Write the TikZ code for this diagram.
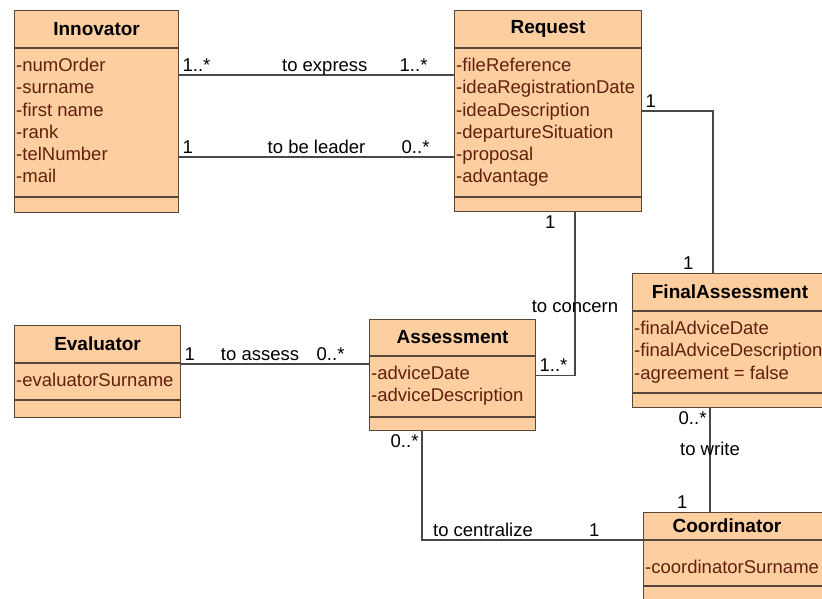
\documentclass[tikz,border=0pt]{standalone}
\usepackage{fontspec}
\setmainfont{Liberation Sans}
\usepackage{xcolor}
\usetikzlibrary{positioning}
\definecolor{umlfill}{RGB}{252,206,160}
\definecolor{umledge}{RGB}{88,70,56}
\definecolor{umltext}{RGB}{98,32,12}
\definecolor{umlwire}{RGB}{72,72,72}
\tikzset{
    umlbox/.style={draw=umledge, fill=umlfill, anchor=north west, inner sep=0pt, line width=1.1pt},
    umltitle/.style={font=\fontsize{19}{22}\selectfont\bfseries, text=black, inner sep=0pt},
    umlattr/.style={font=\fontsize{18.5}{22.2}\selectfont, text=umltext, align=left, anchor=north west, inner xsep=2pt, inner ysep=10pt},
    umlrule/.style={draw=umledge, line width=1.1pt},
    umlassoc/.style={draw=umlwire, line width=1.1pt},
    umllabel/.style={font=\fontsize{18.5}{22}\selectfont, text=black, text depth=0pt, inner sep=3pt}
}

\begin{document}
\begin{tikzpicture}[x=1pt, y=-1pt]
    \useasboundingbox[fill=white] (0,0) rectangle (822,598);
    \clip (0,0) rectangle (822,598);

    % classes
    \node[umlbox, minimum width=164pt, minimum height=202pt] (innov) at (14,10) {};
    \node[umltitle] (innovT) at ([yshift=-19pt]innov.north) {Innovator};
    \draw[umlrule] ([yshift=-38pt]innov.north west) -- ([yshift=-38pt]innov.north east);
    \node[umlattr] (innovA) at ([yshift=-38pt]innov.north west) {-numOrder\\-surname\\-first name\\-rank\\-telNumber\\-mail};
    \draw[umlrule] ([yshift=-187pt]innov.north west) -- ([yshift=-187pt]innov.north east);

    \node[umlbox, minimum width=187pt, minimum height=201pt] (req) at (454,10) {};
    \node[umltitle] (reqT) at ([yshift=-19pt]req.north) {Request};
    \draw[umlrule] ([yshift=-38pt]req.north west) -- ([yshift=-38pt]req.north east);
    \node[umlattr] (reqA) at ([yshift=-38pt]req.north west) {-fileReference\\-ideaRegistrationDate\\-ideaDescription\\-departureSituation\\-proposal\\-advantage};
    \draw[umlrule] ([yshift=-187pt]req.north west) -- ([yshift=-187pt]req.north east);

    \node[umlbox, minimum width=166pt, minimum height=92pt] (eval) at (14,325) {};
    \node[umltitle] (evalT) at ([yshift=-19pt]eval.north) {Evaluator};
    \draw[umlrule] ([yshift=-38pt]eval.north west) -- ([yshift=-38pt]eval.north east);
    \node[umlattr] (evalA) at ([yshift=-38pt]eval.north west) {-evaluatorSurname};
    \draw[umlrule] ([yshift=-75pt]eval.north west) -- ([yshift=-75pt]eval.north east);

    \node[umlbox, minimum width=166pt, minimum height=111pt] (assess) at (369,319) {};
    \node[umltitle] (assessT) at ([yshift=-18.5pt]assess.north) {Assessment};
    \draw[umlrule] ([yshift=-37pt]assess.north west) -- ([yshift=-37pt]assess.north east);
    \node[umlattr] (assessA) at ([yshift=-37pt]assess.north west) {-adviceDate\\-adviceDescription};
    \draw[umlrule] ([yshift=-98pt]assess.north west) -- ([yshift=-98pt]assess.north east);

    \node[umlbox, minimum width=210pt, minimum height=134pt] (fa) at (632,273) {};
    \node[umltitle] (faT) at ([yshift=-19pt]fa.north west) [anchor=center, xshift=98pt] {FinalAssessment};
    \draw[umlrule] ([yshift=-38pt]fa.north west) -- ([yshift=-38pt]fa.north east);
    \node[umlattr] (faA) at ([yshift=-38pt]fa.north west) {-finalAdviceDate\\-finalAdviceDescription\\-agreement = false};
    \draw[umlrule] ([yshift=-120pt]fa.north west) -- ([yshift=-120pt]fa.north east);

    \node[umlbox, minimum width=200pt, minimum height=100pt] (coord) at (643,512) {};
    \node[umltitle] (coordT) at ([yshift=-14pt, xshift=84pt]coord.north west) {Coordinator};
    \draw[umlrule] ([yshift=-28pt]coord.north west) -- ([yshift=-28pt]coord.north east);
    \node[umlattr, inner ysep=0pt] (coordA) at ([yshift=-48pt]coord.north west) {-coordinatorSurname};
    \draw[umlrule] ([yshift=-74pt]coord.north west) -- ([yshift=-74pt]coord.north east);

    % associations
    \draw[umlassoc] ([yshift=-65pt]innov.north east) -- ([yshift=-65pt]req.north west)
        node[umllabel, pos=0, above right] {1..*}
        node[umllabel, pos=0.53, above] {to express}
        node[umllabel, pos=1, above left, xshift=-23pt] {1..*};
    \draw[umlassoc] ([yshift=-147pt]innov.north east) -- ([yshift=-147pt]req.north west)
        node[umllabel, pos=0, above right] {1}
        node[umllabel, pos=0.5, above] {to be leader}
        node[umllabel, pos=1, above left, xshift=-21pt] {0..*};
    \draw[umlassoc] ([yshift=-101pt]req.north east) -| ([xshift=81pt]fa.north west)
        node[umllabel, pos=0, above right] {1}
        node[umllabel, pos=1, above left, xshift=-16pt] {1};
    \draw[umlassoc] ([xshift=121pt]req.south west) |- (assess.east)
        node[umllabel, pos=0, below left, xshift=-16pt] {1}
        node[umllabel, pos=0.29] {to concern}
        node[umllabel, pos=1, above right] {1..*};
    \coordinate (assessfrom) at ([yshift=-39pt]eval.north east);
    \draw[umlassoc] (assessfrom) -- (assessfrom -| assess.west)
        node[umllabel, pos=0, above right] {1}
        node[umllabel, pos=0.42, above] {to assess}
        node[umllabel, pos=1, above left, xshift=-21pt] {0..*};
    \draw[umlassoc] ([xshift=53pt]assess.south west) |- ([yshift=-28pt]coord.north west)
        node[umllabel, pos=0, below left] {0..*}
        node[umllabel, pos=0.638, above] {to centralize}
        node[umllabel, pos=0.89, above] {1};
    \draw[umlassoc] ([xshift=78pt]fa.south west) -- ([xshift=67pt]coord.north west)
        node[umllabel, pos=0, below left] {0..*}
        node[umllabel, pos=0.39] {to write}
        node[umllabel, pos=1, above left, xshift=-19pt] {1};
\end{tikzpicture}
\end{document}
